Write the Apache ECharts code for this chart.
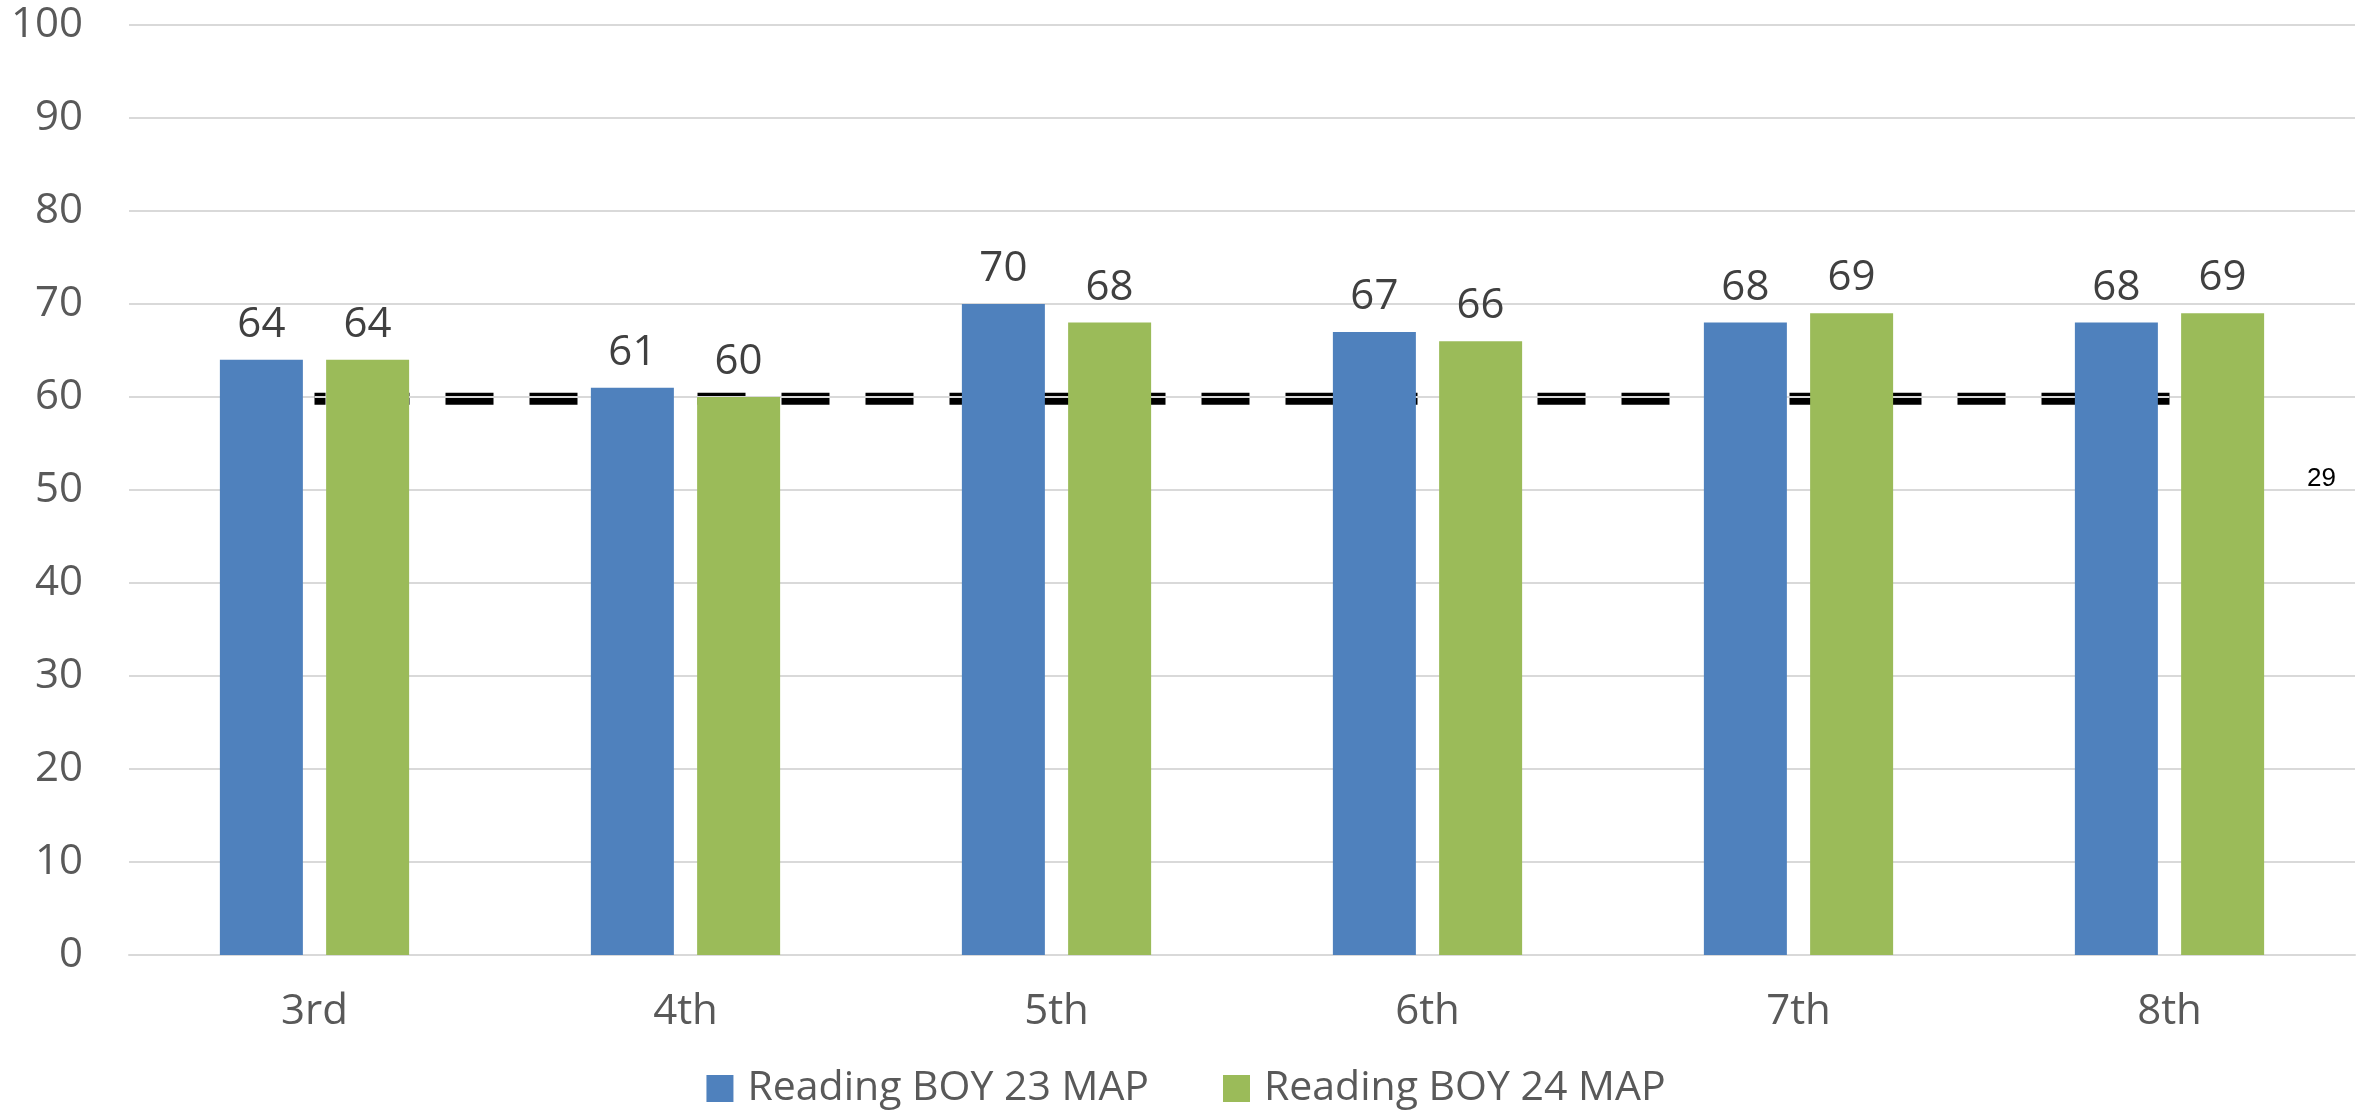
<!DOCTYPE html>
<html>
<head>
<meta charset="utf-8">
<script src="https://cdn.jsdelivr.net/npm/echarts@6/dist/echarts.min.js"></script>
<style>
html,body{margin:0;padding:0;background:#fff;}
#chart{width:2372px;height:1120px;}
</style>
</head>
<body>
<div id="chart"></div>
<script>
const categories = ['3rd', '4th', '5th', '6th', '7th', '8th'];
const reading23 = [64, 61, 70, 67, 68, 68];
const reading24 = [64, 60, 68, 66, 69, 69];
const targetLine = [59.8, 59.8, 59.8, 59.8, 59.8, 59.8];
const targetGap = [60, 60, 60, 60, 60, 60];
const yTicks = [0, 10, 20, 30, 40, 50, 60, 70, 80, 90, 100];
const seriesNames = ['Reading BOY 23 MAP', 'Reading BOY 24 MAP'];
const strayLabel = '29';

const FONT = '"Open Sans", "Noto Sans", sans-serif';
const chart = echarts.init(document.getElementById('chart'), null, {renderer: 'canvas'});
chart.setOption({
  backgroundColor: '#ffffff',
  animation: false,
  grid: {left: 129, right: 17, top: 25, bottom: 165, containLabel: false},
  legend: {
    data: seriesNames,
    left: 'center',
    bottom: 6,
    itemWidth: 27,
    itemHeight: 27,
    itemGap: 74,
    icon: 'rect',
    textStyle: {fontFamily: FONT, fontSize: 41, color: '#595959', padding: [0, 0, 0, 9]}
  },
  xAxis: {
    type: 'category',
    data: categories,
    axisLine: {show: true, lineStyle: {color: '#d9d9d9', width: 2}},
    axisTick: {show: false},
    axisLabel: {fontFamily: FONT, fontSize: 42, color: '#595959', margin: 36}
  },
  yAxis: {
    type: 'value',
    min: yTicks[0],
    max: yTicks[yTicks.length - 1],
    interval: 10,
    axisLine: {show: false},
    axisTick: {show: false},
    splitLine: {lineStyle: {color: '#d9d9d9', width: 2}},
    axisLabel: {fontFamily: FONT, fontSize: 42, color: '#595959', margin: 46}
  },
  series: [
    {
      name: seriesNames[0],
      type: 'bar',
      data: reading23,
      barWidth: 83,
      barGap: '28%',
      z: 3,
      itemStyle: {color: '#4f81bd'},
      label: {show: true, position: 'top', distance: 14, fontFamily: FONT, fontSize: 42, color: '#404040'}
    },
    {
      name: seriesNames[1],
      type: 'bar',
      data: reading24,
      barWidth: 83,
      barGap: '28%',
      z: 3,
      itemStyle: {color: '#9bbb59'},
      label: {show: true, position: 'top', distance: 14, fontFamily: FONT, fontSize: 42, color: '#404040'}
    },
    {
      name: 'target',
      type: 'line',
      data: targetLine,
      symbol: 'none',
      z: 1,
      silent: true,
      lineStyle: {color: '#000000', width: 12, type: [48, 36], dashOffset: 37, cap: 'butt'}
    },
    {
      name: 'targetGap',
      type: 'line',
      data: targetGap,
      symbol: 'none',
      z: 2,
      silent: true,
      lineStyle: {color: '#d9d9d9', width: 2, type: 'solid'}
    }
  ],
  graphic: [
    {
      type: 'text',
      left: 2307,
      top: 466,
      style: {text: strayLabel, fontFamily: '"Liberation Sans", Arial, sans-serif', fontSize: 26, fill: '#000000'}
    }
  ]
});
</script>
</body>
</html>
